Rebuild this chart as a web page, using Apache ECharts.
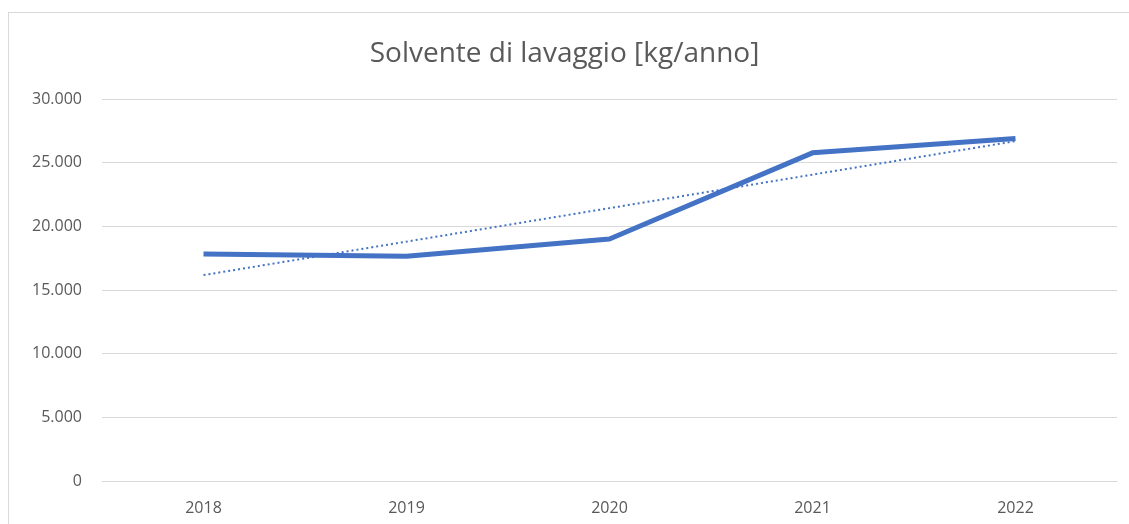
<!DOCTYPE html>
<html>
<head>
<meta charset="utf-8">
<script src="https://cdn.jsdelivr.net/npm/echarts@6/dist/echarts.min.js"></script>
<style>
  html, body { margin: 0; padding: 0; background: #fff; }
  #frame {
    position: absolute;
    left: 8px;
    top: 12px;
    width: 1200px;
    height: 600px;
    border-top: 1px solid #d9d9d9;
    border-left: 1px solid #d9d9d9;
  }
  #chart {
    position: absolute;
    left: 0;
    top: 0;
    width: 1129px;
    height: 524px;
  }
</style>
</head>
<body>
<div id="frame"></div>
<div id="chart"></div>
<script>
  const years = ['2018', '2019', '2020', '2021', '2022']
  const solvente = [17820, 17650, 19000, 25770, 26900]
  // linea di tendenza
  const tendenza = [16170, 18800, 21430, 24060, 26690]
  const yTicks = [0, 5000, 10000, 15000, 20000, 25000, 30000]

  const fmt = (v) => String(v).replace(/\B(?=(\d{3})+(?!\d))/g, '.')

  let chart = echarts.init(document.getElementById('chart'))
  let option = {
    animation: false,
    title: {
      text: 'Solvente di lavaggio [kg/anno]',
      left: 'center',
      top: 35,
      textStyle: {
        fontFamily: 'Open Sans',
        fontWeight: 'normal',
        fontSize: 28,
        color: '#595959',
      },
    },
    grid: {
      left: 102,
      right: 12,
      top: 99,
      bottom: 43,
    },
    xAxis: {
      type: 'category',
      data: years,
      boundaryGap: true,
      axisLine: { show: true, lineStyle: { color: '#d9d9d9' } },
      axisTick: { show: false },
      axisLabel: {
        color: '#595959',
        fontFamily: 'Open Sans',
        fontSize: 16,
        margin: 19,
      },
    },
    yAxis: {
      type: 'value',
      min: yTicks[0],
      max: yTicks[yTicks.length - 1],
      interval: 5000,
      axisLine: { show: false },
      axisTick: { show: false },
      axisLabel: {
        color: '#595959',
        fontFamily: 'Open Sans',
        fontSize: 16,
        margin: 20,
        formatter: (v) => fmt(v),
      },
      splitLine: { lineStyle: { color: '#d9d9d9' } },
    },
    series: [
      {
        name: 'Solvente',
        type: 'line',
        data: solvente,
        symbol: 'none',
        lineStyle: { color: '#4472c4', width: 5 },
        z: 3,
      },
      {
        name: 'Tendenza',
        type: 'line',
        data: tendenza,
        symbol: 'none',
        lineStyle: { color: '#4472c4', width: 2, type: [2, 3] },
        z: 2,
      },
    ],
  }
  chart.setOption(option)
</script>
</body>
</html>
